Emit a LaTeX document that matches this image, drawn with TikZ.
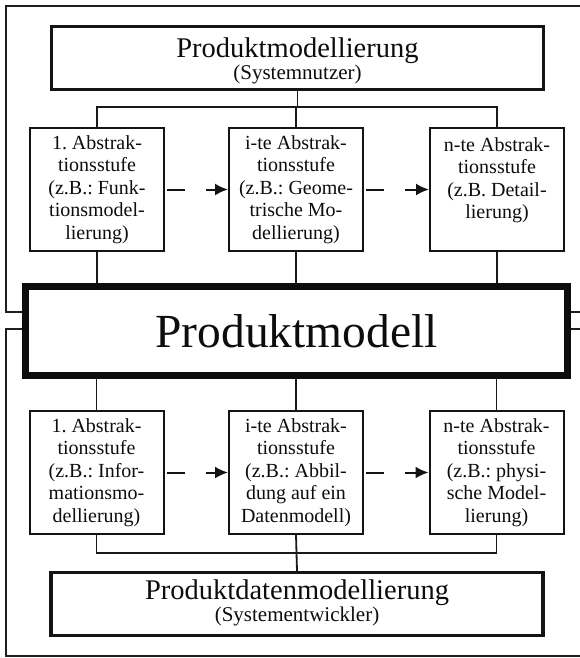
\documentclass[tikz,border=0pt]{standalone}
\usepackage{fontspec}
\setmainfont{Liberation Serif}
\usetikzlibrary{arrows.meta}
\begin{document}
\frenchspacing
\begin{tikzpicture}[x=1pt,y=-1pt,
  every node/.style={text=black!95},
  link/.style={line width=1.8pt, draw=black!90},
  frameline/.style={line width=1.7pt, draw=black!88},
  stagebox/.style={draw=black!92, line width=2pt, fill=white,
    minimum width=134pt, minimum height=123pt, inner sep=0pt,
    align=center, font=\fontsize{20}{22.5}\selectfont},
  levelbox/.style={draw=black!92, line width=3.2pt, fill=white,
    minimum width=492pt, minimum height=63pt, inner sep=0pt},
  corebox/.style={draw=black!95, line width=7pt, fill=white,
    minimum width=542pt, minimum height=89pt, inner sep=0pt,
    font=\fontsize{47.5}{50}\selectfont},
  headline/.style={anchor=base, inner sep=0pt, font=\fontsize{28.5}{30}\selectfont},
  subline/.style={anchor=base, inner sep=0pt, font=\fontsize{21}{23}\selectfont},
  flow/.style={line width=2pt, draw=black!92, dash pattern=on 18pt off 21pt,
    -{Latex[length=13pt,width=12pt]}, shorten <=2pt}
]
\useasboundingbox (0,0) rectangle (579,658);

% header and footer levels
\node[levelbox] (top) at (297.5,58) {};
\node[headline] (topTitle) at (297.5,58) {Produktmodellierung};
\node[subline] (topSub) at (297.5,80) {(Systemnutzer)};
\node[levelbox] (bot) at (297,604) {};
\node[headline] (botTitle) at (297,599) {Produktdatenmodellierung};
\node[subline] (botSub) at (297,621) {(Systementwickler)};

% central product model
\node[corebox] (pm) at (296.5,331) {Produktmodell};

% upper abstraction stages
\node[stagebox] (u1) at (97,189.5)
  {1. Abstrak-\\tionsstufe\\(z.B.: Funk-\\tionsmodel-\\lierung)};
\node[stagebox] (u2) at (296,189.5)
  {i-te Abstrak-\\tionsstufe\\(z.B.: Geome-\\trische Mo-\\dellierung)};
\node[stagebox] (u3) at (497,189.5)
  {n-te Abstrak-\\tionsstufe\\(z.B. Detail-\\lierung)\\\mbox{}};

% lower abstraction stages
\node[stagebox] (l1) at (96.5,472.5)
  {1. Abstrak-\\tionsstufe\\(z.B.: Infor-\\mationsmo-\\dellierung)};
\node[stagebox] (l2) at (296,472.5)
  {i-te Abstrak-\\tionsstufe\\(z.B.: Abbil-\\dung auf ein\\Datenmodell)};
\node[stagebox] (l3) at (496.5,472.5)
  {n-te Abstrak-\\tionsstufe\\(z.B.: physi-\\sche Model-\\lierung)};

% bus coordinates
\coordinate (ubus) at (296,107);
\coordinate (lbus) at (296,553);
\coordinate (upperrail) at (0,312);
\coordinate (lowerrail) at (0,329);
\coordinate (frameTL) at (6,6);
\coordinate (frameTR) at (581,6);
\coordinate (frameBL) at (6,656);
\coordinate (frameBR) at (581,656);
\coordinate (edgeR) at (581,0);

% outer frames around the two halves
\draw[frameline] (pm.west |- upperrail) -- (frameTL |- upperrail) -- (frameTL) -- (frameTR);
\draw[frameline] (pm.east |- upperrail) -- (edgeR |- upperrail);
\draw[frameline] (pm.west |- lowerrail) -- (frameBL |- lowerrail) -- (frameBL) -- (frameBR);
\draw[frameline] (pm.east |- lowerrail) -- (edgeR |- lowerrail);

% upper connectors
\draw[link] (top.south) -- (top.south |- ubus);
\draw[link] (u1.north) |- (ubus) -| (u3.north);
\draw[link] (ubus) -- (u2.north);
\draw[link] (u1.south) -- (u1.south |- pm.north);
\draw[link] (u2.south) -- (u2.south |- pm.north);
\draw[link] (u3.south) -- (u3.south |- pm.north);

% lower connectors
\draw[link] (l1.north |- pm.south) -- (l1.north);
\draw[link] (l2.north |- pm.south) -- (l2.north);
\draw[link] (l3.north |- pm.south) -- (l3.north);
\draw[link] (l1.south) |- (lbus) -| (l3.south);
\draw[link] (l2.south) -- (bot.north);

% stage progression
\draw[flow] (u1.east) -- (u2.west);
\draw[flow] (u2.east) -- (u3.west);
\draw[flow] (l1.east) -- (l2.west);
\draw[flow] (l2.east) -- (l3.west);
\end{tikzpicture}
\end{document}
